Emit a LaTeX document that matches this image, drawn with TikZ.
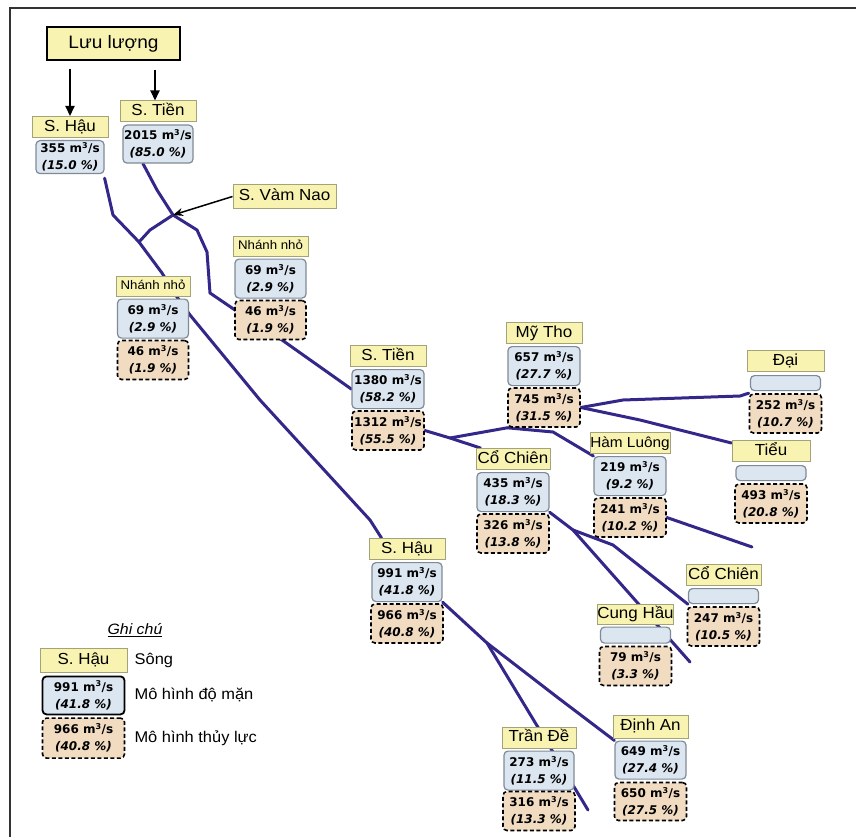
\documentclass[tikz,border=0pt]{standalone}
\usepackage{fontspec}
\setmainfont{Liberation Sans}[FakeStretch=1.06]
\newfontfamily\numfont{DejaVu Sans}
\usetikzlibrary{positioning,arrows.meta,backgrounds}
\definecolor{lblfill}{HTML}{F9F3B1}
\definecolor{lbldraw}{HTML}{A3A37A}
\definecolor{qfill}{HTML}{DCE6F1}
\definecolor{qdraw}{HTML}{7F8A96}
\definecolor{hfill}{HTML}{F1DCC2}
\definecolor{rivercol}{HTML}{33288A}
\begin{document}
\begin{tikzpicture}[x=1pt,y=-1pt,
    lbl/.style={draw=lbldraw, fill=lblfill, line width=1pt, minimum width=76pt, minimum height=21pt,
      inner sep=0pt, text height=11.5pt, text depth=3pt, font=\fontsize{16}{18}\selectfont},
    smalllbl/.style={lbl, minimum height=20pt, text height=9pt, text depth=2.5pt, font=\fontsize{12.5}{14}\selectfont},
    titlebox/.style={draw=black, fill=lblfill, line width=2pt, minimum width=133pt, minimum height=33pt,
      inner sep=0pt, font=\fontsize{18}{20}\selectfont},
    qbox/.style={draw=qdraw, fill=qfill, rounded corners=4pt, line width=1.2pt, minimum width=71pt,
      minimum height=39pt, inner sep=0pt, align=center, font=\numfont\bfseries\fontsize{12}{17}\selectfont},
    qempty/.style={qbox, minimum height=15pt},
    hbox/.style={draw=black, fill=hfill, rounded corners=4pt, line width=1.6pt, dash pattern=on 4pt off 2.5pt,
      minimum width=72pt, minimum height=39pt, inner sep=0pt, align=center,
      font=\numfont\bfseries\fontsize{12}{17}\selectfont},
    legtext/.style={inner sep=0pt, font=\fontsize{15.5}{18}\selectfont},
    river/.style={draw=rivercol, line width=3pt, line join=round, line cap=round},
    flow/.style={draw=black, line width=2pt, -{Triangle[length=10pt,width=9pt]}},
    pointer/.style={draw=black, line width=1.5pt, -{Stealth[length=10pt,width=8pt]}}]
\useasboundingbox (0,0) rectangle (856,837);

% nguon
\node[titlebox] (luu) at (113.5,43.5) {Lưu lượng};
\node[lbl] (hauA) at (70,127) {S. Hậu};
\node[qbox, below=2pt of hauA, minimum width=68pt, minimum height=33pt] (hauA-q) {355 m\textsuperscript{3}/s\\\textit{(15.0 \%)}};
\node[lbl] (tienA) at (158,111.5) {S. Tiền};
\node[qbox, below=2pt of tienA, minimum width=70pt, minimum height=38pt] (tienA-q) {2015 m\textsuperscript{3}/s\\\textit{(85.0 \%)}};
\node[lbl, minimum width=103pt, minimum height=23pt] (vamnao) at (284.5,196.5) {S. Vàm Nao};

% nhanh nho
\node[smalllbl, minimum width=75pt] (nhanhR) at (270.5,246) {Nhánh nhỏ};
\node[qbox, below=2pt of nhanhR] (nhanhR-q) {69 m\textsuperscript{3}/s\\\textit{(2.9 \%)}};
\node[hbox, below=1pt of nhanhR-q, minimum width=71pt] (nhanhR-h) {46 m\textsuperscript{3}/s\\\textit{(1.9 \%)}};
\node[smalllbl, minimum width=74pt] (nhanhL) at (153,286) {Nhánh nhỏ};
\node[qbox, below=2pt of nhanhL] (nhanhL-q) {69 m\textsuperscript{3}/s\\\textit{(2.9 \%)}};
\node[hbox, below=1pt of nhanhL-q, minimum width=71pt] (nhanhL-h) {46 m\textsuperscript{3}/s\\\textit{(1.9 \%)}};

% song Tien
\node[lbl] (tienB) at (388,356) {S. Tiền};
\node[qbox, below=2pt of tienB, minimum width=72pt] (tienB-q) {1380 m\textsuperscript{3}/s\\\textit{(58.2 \%)}};
\node[hbox, below=1pt of tienB-q] (tienB-h) {1312 m\textsuperscript{3}/s\\\textit{(55.5 \%)}};
\node[lbl] (mytho) at (544,333) {Mỹ Tho};
\node[qbox, below=2pt of mytho, minimum width=72pt] (mytho-q) {657 m\textsuperscript{3}/s\\\textit{(27.7 \%)}};
\node[hbox, below=1pt of mytho-q] (mytho-h) {745 m\textsuperscript{3}/s\\\textit{(31.5 \%)}};
\node[lbl, minimum width=77pt] (dai) at (785.5,361) {Đại};
\node[qempty, below=3pt of dai, minimum width=70pt] (dai-q) {};
\node[hbox, below=2pt of dai-q] (dai-h) {252 m\textsuperscript{3}/s\\\textit{(10.7 \%)}};
\node[lbl, minimum width=78pt] (tieu) at (771,451) {Tiểu};
\node[qempty, below=3pt of tieu, minimum width=70pt] (tieu-q) {};
\node[hbox, below=2pt of tieu-q] (tieu-h) {493 m\textsuperscript{3}/s\\\textit{(20.8 \%)}};
\node[lbl, minimum width=80pt, font=\fontsize{14.5}{16}\selectfont] (hamluong) at (630,443) {Hàm Luông};
\node[qbox, below=2pt of hamluong, minimum width=72pt] (hamluong-q) {219 m\textsuperscript{3}/s\\\textit{(9.2 \%)}};
\node[hbox, below=1pt of hamluong-q] (hamluong-h) {241 m\textsuperscript{3}/s\\\textit{(10.2 \%)}};
\node[lbl, minimum width=74pt] (cochienA) at (513,459) {Cổ Chiên};
\node[qbox, below=2pt of cochienA, minimum width=72pt] (cochienA-q) {435 m\textsuperscript{3}/s\\\textit{(18.3 \%)}};
\node[hbox, below=1pt of cochienA-q] (cochienA-h) {326 m\textsuperscript{3}/s\\\textit{(13.8 \%)}};
\node[lbl, minimum width=75pt] (cochienB) at (723.5,575) {Cổ Chiên};
\node[qempty, below=2pt of cochienB, minimum width=70pt] (cochienB-q) {};
\node[hbox, below=2pt of cochienB-q] (cochienB-h) {247 m\textsuperscript{3}/s\\\textit{(10.5 \%)}};
\node[lbl, minimum width=75pt, minimum height=20pt] (cunghau) at (635.5,614) {Cung Hầu};
\node[qempty, below=2pt of cunghau, minimum width=70pt, minimum height=16pt] (cunghau-q) {};
\node[hbox, below=2pt of cunghau-q] (cunghau-h) {79 m\textsuperscript{3}/s\\\textit{(3.3 \%)}};

% song Hau
\node[lbl] (hauB) at (407,549) {S. Hậu};
\node[qbox, below=2pt of hauB, minimum width=70pt] (hauB-q) {991 m\textsuperscript{3}/s\\\textit{(41.8 \%)}};
\node[hbox, below=1pt of hauB-q] (hauB-h) {966 m\textsuperscript{3}/s\\\textit{(40.8 \%)}};
\node[lbl, minimum width=74pt] (trande) at (539,737.5) {Trần Đề};
\node[qbox, below=2pt of trande, minimum width=70pt] (trande-q) {273 m\textsuperscript{3}/s\\\textit{(11.5 \%)}};
\node[hbox, below=0pt of trande-q] (trande-h) {316 m\textsuperscript{3}/s\\\textit{(13.3 \%)}};
\node[lbl, minimum width=75pt, minimum height=23pt] (dinhan) at (650.5,726.5) {Định An};
\node[qbox, below=2pt of dinhan, minimum width=71pt, minimum height=38pt] (dinhan-q) {649 m\textsuperscript{3}/s\\\textit{(27.4 \%)}};
\node[hbox, below=2pt of dinhan-q, minimum height=38pt] (dinhan-h) {650 m\textsuperscript{3}/s\\\textit{(27.5 \%)}};

% ghi chu
\node[inner sep=0pt, font=\itshape\fontsize{15}{18}\selectfont] (ghichu) at (135,630) {\underline{Ghi chú}};
\node[lbl, minimum width=87pt, minimum height=24pt] (leg) at (83.5,660) {S. Hậu};
\node[qbox, below=3pt of leg, minimum width=82pt, minimum height=38pt, draw=black, line width=1.8pt] (leg-q) {991 m\textsuperscript{3}/s\\\textit{(41.8 \%)}};
\node[hbox, below=2pt of leg-q, minimum width=82pt, minimum height=40pt] (leg-h) {966 m\textsuperscript{3}/s\\\textit{(40.8 \%)}};
\node[legtext, right=7pt of leg] (leg-song) {Sông};
\node[legtext, right=9pt of leg-q] (leg-salt) {Mô hình độ mặn};
\node[legtext, right=9pt of leg-h] (leg-hyd) {Mô hình thủy lực};

% mui ten
\draw[flow] ([xshift=-43.5pt,yshift=-8pt]luu.south) -- (hauA.north);
\draw[flow] ([xshift=41.5pt,yshift=-9pt]luu.south) -- ([xshift=-3pt]tienA.north);

\coordinate (vnH) at (139,242);
\coordinate (vnT) at (173,215);
\coordinate (jTien) at (450,438);
\coordinate (jCC) at (573,530);
\coordinate (jHau) at (487,643);
\coordinate (endHL) at (752,547);
\coordinate (endCH) at (690,662);
\coordinate (endTD) at (588,810);

\draw[pointer] (vamnao.west) -- (vnT);

% song ngoi
\begin{scope}[on background layer]
\draw[black!80, line width=1.5pt] (10,837) -- (10,8) -- (856,8);
\draw[river] ([yshift=-4pt]hauA-q.south east) -- (113,215) -- (vnH) -- (162,273) -- (177,297) -- (190,315)
  -- (260,400) -- (370,520) -- ([xshift=13pt]hauB.north west);
\draw[river] (vnH) -- (150,230) -- (vnT);
\draw[river] ([xshift=-15pt]tienA-q.south) -- (157,190) -- (vnT) -- (197,230) -- (207,252) -- (210,293)
  -- (235,310) -- (282,340) -- (tienB-q.west);
\draw[river] (tienB-h.east) -- (jTien) -- ([xshift=5pt]cochienA.north west);
\draw[river] (jTien) -- (mytho-h.south west);
\draw[river] (mytho-h.south west) -- (553,432) -- (hamluong-q.north west);
\draw[river] (mytho-h.east) -- (623,400) -- (740,396) -- (dai-h.north west);
\draw[river] (mytho-h.east) -- (640,420) -- ([yshift=-3pt]tieu.north west);
\draw[river] (hamluong-h.east) -- (endHL);
\draw[river] (cochienA-q.south east) -- (jCC) -- (endCH);
\draw[river] (jCC) -- (613,545) -- (cochienB-q.south west);
\draw[river] (hauB-q.south east) -- (jHau) -- (endTD);
\draw[river] (jHau) -- (557,697) -- (dinhan-q.north west);
\end{scope}
\end{tikzpicture}
\end{document}
